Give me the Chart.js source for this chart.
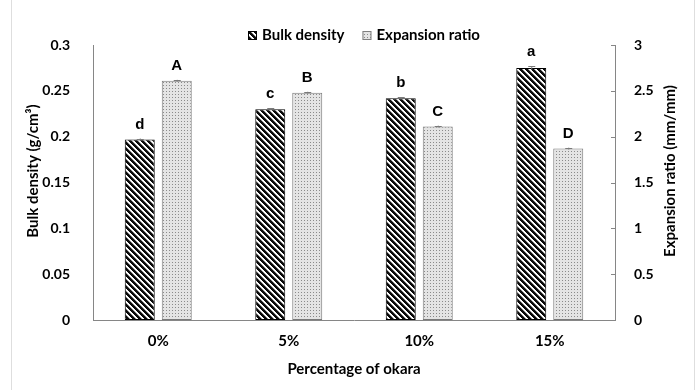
<!DOCTYPE html>
<html><head><meta charset="utf-8">
<script src="https://cdn.jsdelivr.net/npm/chart.js@4.4.1/dist/chart.umd.min.js"></script>
<style>html,body{margin:0;padding:0;background:#fff}#wrap{width:697px;height:390px;position:relative}</style>
</head><body><div id="wrap"><canvas id="c" width="697" height="390"></canvas></div>
<script>
const categories = ['0%', '5%', '10%', '15%'];
const bulkDensity = [0.197, 0.230, 0.242, 0.275];
const bulkDensityErr = [0.001, 0.001, 0.001, 0.002];
const expansionRatio = [2.61, 2.48, 2.11, 1.87];
const expansionRatioErr = [0.01, 0.01, 0.01, 0.01];
const bulkLetters = ['d', 'c', 'b', 'a'];
const ratioLetters = ['A', 'B', 'C', 'D'];
const leftTicks = ['0', '0.05', '0.1', '0.15', '0.2', '0.25', '0.3'];
const rightTicks = ['0', '0.5', '1', '1.5', '2', '2.5', '3'];
const seriesNames = ['Bulk density', 'Expansion ratio'];
const axisTitles = ['Bulk density (g/cm³)', 'Expansion ratio (mm/mm)', 'Percentage of okara'];

const FONT = 'Lato, "Open Sans", sans-serif';

function makeHatch() {
  const n = 6;
  const c = document.createElement('canvas');
  c.width = n; c.height = n;
  const g = c.getContext('2d');
  const img = g.createImageData(n, n);
  for (let y = 0; y < n; y++) for (let x = 0; x < n; x++) {
    const d = ((x - y) % n + n) % n;
    const v = d < 3 ? 10 : (d === 3 ? 140 : 255);
    const k = (y * n + x) * 4;
    img.data[k] = img.data[k + 1] = img.data[k + 2] = v; img.data[k + 3] = 255;
  }
  g.putImageData(img, 0, 0);
  return c;
}
function makeDots() {
  const c = document.createElement('canvas');
  c.width = 3; c.height = 3;
  const g = c.getContext('2d');
  g.fillStyle = '#e4e4e4'; g.fillRect(0, 0, 3, 3);
  g.fillStyle = '#8a8a8a'; g.fillRect(1, 1, 1, 1);
  return c;
}
const ctx0 = document.getElementById('c').getContext('2d');
const hatch = ctx0.createPattern(makeHatch(), 'repeat');
const dots = ctx0.createPattern(makeDots(), 'repeat');

const extras = {
  id: 'extras',
  beforeDraw(chart) {
    const ctx = chart.ctx;
    ctx.save();
    ctx.fillStyle = '#fff';
    ctx.fillRect(0, 0, chart.width, chart.height);
    ctx.strokeStyle = '#dedede'; ctx.lineWidth = 1;
    ctx.beginPath();
    ctx.moveTo(11.5, 0); ctx.lineTo(11.5, 390);
    ctx.moveTo(694.5, 0); ctx.lineTo(694.5, 390);
    ctx.stroke();
    ctx.restore();
  },
  afterDraw(chart) {
    const ctx = chart.ctx;
    const ys = [chart.scales.y, chart.scales.y2];
    const vals = [bulkDensity, expansionRatio];
    const errs = [bulkDensityErr, expansionRatioErr];
    const letters = [bulkLetters, ratioLetters];
    ctx.save();
    for (let d = 0; d < 2; d++) {
      const meta = chart.getDatasetMeta(d);
      meta.data.forEach((bar, i) => {
        const top = ys[d].getPixelForValue(vals[d][i] + errs[d][i]);
        const bot = ys[d].getPixelForValue(vals[d][i] - errs[d][i]);
        ctx.strokeStyle = '#7a7a7a'; ctx.lineWidth = 1;
        ctx.beginPath();
        ctx.moveTo(bar.x + 0.5, top); ctx.lineTo(bar.x + 0.5, bot);
        ctx.moveTo(bar.x - 3, Math.round(top) + 0.5); ctx.lineTo(bar.x + 4, Math.round(top) + 0.5);
        ctx.stroke();
        ctx.fillStyle = '#000';
        ctx.font = 'bold 15px "Liberation Sans", Arial, sans-serif';
        ctx.textAlign = 'center'; ctx.textBaseline = 'middle';
        ctx.fillText(letters[d][i], bar.x, top - 14);
      });
    }
    const y2 = chart.scales.y2;
    ctx.strokeStyle = '#868686'; ctx.lineWidth = 1;
    ctx.beginPath();
    y2.ticks.forEach((t, i) => {
      const py = Math.round(y2.getPixelForTick(i)) + 0.5;
      ctx.moveTo(y2.left - 4, py); ctx.lineTo(y2.left, py);
    });
    ctx.stroke();
    ctx.fillStyle = '#000';
    ctx.font = 'bold 15px ' + FONT;
    ctx.textAlign = 'center'; ctx.textBaseline = 'middle';
    ctx.save(); ctx.translate(33, 171); ctx.rotate(-Math.PI / 2);
    ctx.fillText(axisTitles[0], 0, 0); ctx.restore();
    ctx.save(); ctx.translate(670, 171); ctx.rotate(-Math.PI / 2);
    ctx.fillText(axisTitles[1], 0, 0); ctx.restore();
    ctx.font = 'bold 15px ' + FONT;
    const box = 9, gap = 5, itemGap = 18;
    const w0 = ctx.measureText(seriesNames[0]).width;
    const w1 = ctx.measureText(seriesNames[1]).width;
    const total = box + gap + w0 + itemGap + box + gap + w1;
    let x = Math.round(364 - total / 2);
    const ly = 35;
    const fills = [hatch, dots], strokes = ['#000', '#7f7f7f'];
    [w0, w1].forEach((w, k) => {
      ctx.fillStyle = fills[k];
      ctx.fillRect(x, ly - 4, box, box);
      ctx.strokeStyle = strokes[k]; ctx.lineWidth = 1;
      ctx.strokeRect(x + 0.5, ly - 4 + 0.5, box - 1, box - 1);
      ctx.fillStyle = '#000'; ctx.textAlign = 'left'; ctx.textBaseline = 'middle';
      ctx.fillText(seriesNames[k], x + box + gap, ly);
      x += box + gap + w + itemGap;
    });
    ctx.restore();
  }
};

new Chart(document.getElementById('c'), {
  type: 'bar',
  data: {
    labels: categories,
    datasets: [
      { label: seriesNames[0], data: bulkDensity, yAxisID: 'y', backgroundColor: hatch,
        borderColor: '#000', borderWidth: 1, borderSkipped: false,
        categoryPercentage: 0.567, barPercentage: 0.81 },
      { label: seriesNames[1], data: expansionRatio, yAxisID: 'y2', backgroundColor: dots,
        borderColor: '#7a7a7a', borderWidth: 1, borderSkipped: false,
        categoryPercentage: 0.567, barPercentage: 0.81 }
    ]
  },
  options: {
    responsive: false, animation: false, devicePixelRatio: 1,
    layout: { padding: { top: 45, left: 0, right: 0, bottom: 0 } },
    plugins: { legend: { display: false }, tooltip: { enabled: false } },
    scales: {
      x: {
        grid: { display: false },
        border: { display: true, color: '#868686', width: 1 },
        ticks: { color: '#000', font: { family: FONT, size: 15, weight: 'bold' }, padding: 4 },
        title: { display: true, text: axisTitles[2], color: '#000',
          font: { family: FONT, size: 15, weight: 'bold' }, padding: { top: 0, bottom: 12 } },
        afterFit(s) { s.height = 70; }
      },
      y: {
        position: 'left', min: 0, max: 0.3,
        grid: { display: false },
        border: { display: true, color: '#868686', width: 1 },
        ticks: { stepSize: 0.05, color: '#000', font: { family: FONT, size: 14, weight: 'bold' },
          padding: 15, callback: (v, i) => leftTicks[i] },
        afterFit(s) { s.width = 93; }
      },
      y2: {
        position: 'right', min: 0, max: 3,
        grid: { display: false },
        border: { display: true, color: '#868686', width: 1 },
        ticks: { stepSize: 0.5, color: '#000', font: { family: FONT, size: 14, weight: 'bold' },
          padding: 11, callback: (v, i) => rightTicks[i] },
        afterFit(s) { s.width = 82; }
      }
    }
  },
  plugins: [extras]
});
</script>
</body></html>
